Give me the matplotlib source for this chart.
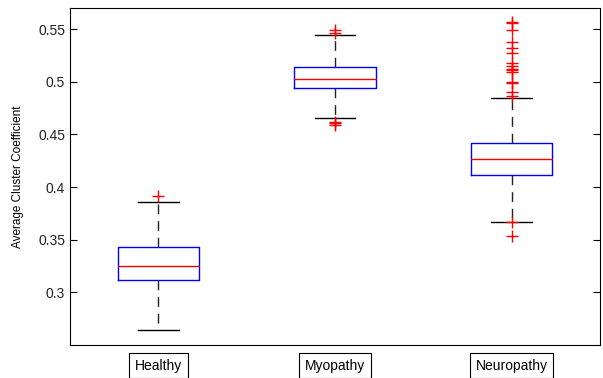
import matplotlib
matplotlib.use("Agg")
import matplotlib.pyplot as plt

plt.rcParams['font.family'] = ['Liberation Sans', 'DejaVu Sans']

categories = ["Healthy", "Myopathy", "Neuropathy"]
q1 = [0.3114, 0.4943, 0.4114]
medians = [0.3254, 0.5030, 0.4269]
q3 = [0.3430, 0.5140, 0.4414]
whislo = [0.2640, 0.4652, 0.3664]
whishi = [0.3855, 0.5446, 0.4849]
fliers = [
    [0.3915],
    [0.5460, 0.5490, 0.4620, 0.4605, 0.4590],
    [0.5565, 0.5554, 0.5490, 0.5380, 0.5316, 0.5269, 0.5174, 0.5152, 0.5120,
     0.5110, 0.5089, 0.4993, 0.4984, 0.4898, 0.4866, 0.3664, 0.3531],
]
yticks = [0.3, 0.35, 0.4, 0.45, 0.5, 0.55]
ytick_labels = ["0.3", "0.35", "0.4", "0.45", "0.5", "0.55"]

stats = []
for i, c in enumerate(categories):
    stats.append(dict(label=c, q1=q1[i], med=medians[i], q3=q3[i],
                      whislo=whislo[i], whishi=whishi[i], fliers=fliers[i]))

fig = plt.figure(figsize=(6.03, 3.78), dpi=100)
ax = fig.add_axes([70/603, 1-345/378, 530/603, 337/378])

ax.bxp(stats, positions=[1, 2, 3], widths=0.46, showfliers=True,
       boxprops=dict(color='#0000ff', linewidth=1.0),
       medianprops=dict(color='#ff0000', linewidth=1.0),
       whiskerprops=dict(color='#222222', linestyle=(0, (7, 5)), linewidth=1.0),
       capprops=dict(color='black', linewidth=1.0),
       flierprops=dict(marker='+', markeredgecolor='#ff0000', markersize=8,
                       markeredgewidth=1.0, linestyle='none'),
       capwidths=0.23)

ax.set_xlim(0.5, 3.5)
ax.set_ylim(0.25, 0.57)
ax.set_yticks(yticks)
ax.set_yticklabels(ytick_labels, fontsize=10, color='#222222')
ax.set_xticks([1, 2, 3])
ax.set_xticklabels(categories, fontsize=10)
for t in ax.get_xticklabels():
    t.set_bbox(dict(facecolor='white', edgecolor='black', linewidth=0.8, pad=4))
ax.tick_params(axis='x', length=0, pad=10)
ax.tick_params(axis='y', direction='in', right=True, length=5, width=0.8)
ax.set_ylabel("Average Cluster Coefficient", fontsize=8.5, labelpad=10)
for s in ax.spines.values():
    s.set_linewidth(0.8)

fig.savefig("out.png", dpi=100)
